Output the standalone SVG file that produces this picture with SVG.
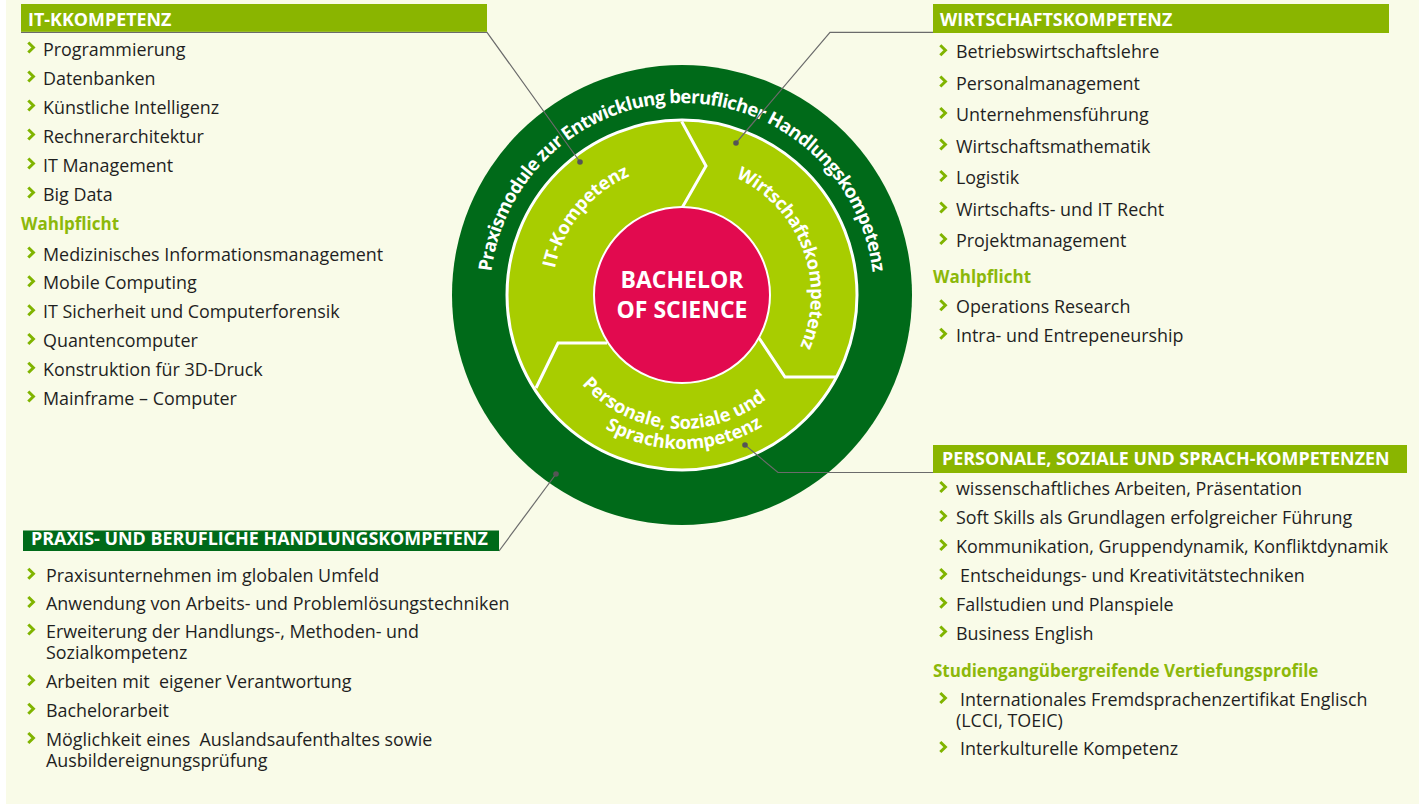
<svg xmlns="http://www.w3.org/2000/svg" xmlns:xlink="http://www.w3.org/1999/xlink" width="1419" height="806" viewBox="0 0 1419 806">
<style>
.t{font-family:"Open Sans","Noto Sans","Liberation Sans",sans-serif;font-size:17.9px;fill:#1f1f1f}
.h{font-family:"Open Sans","Noto Sans","Liberation Sans",sans-serif;font-size:17.9px;font-weight:700;fill:#ffffff}
.w{font-family:"Open Sans","Noto Sans","Liberation Sans",sans-serif;font-size:17px;font-weight:700;fill:#8cb80a}
.r{font-family:"Open Sans","Noto Sans","Liberation Sans",sans-serif;font-weight:700;fill:#ffffff}
.hb{fill:#8ab500}
.hd{fill:#006a19}
.c{fill:none;stroke:#6b6b6b;stroke-width:1.2}
.d{fill:#555555}
.dv{fill:none;stroke:#ffffff;stroke-width:3;stroke-linejoin:miter}
</style>
<defs>
<path id="chev" d="M-2.7 -5 L2.4 0 L-2.7 5" fill="none" stroke="#80b400" stroke-width="3"/>
<path id="pOuter" d="M 490 295 A 192 192 0 0 1 874 295"/>
<path id="pIT" d="M 560.6 341.6 A 130 130 0 0 1 702.3 166.6"/>
<path id="pWi" d="M 702.2 167.6 A 129 129 0 0 1 782.2 376.2"/>
<path id="pPe" d="M 561 352.5 A 134 134 0 0 0 792.3 371.1"/>
<path id="pSp" d="M 549.7 373.8 A 154 154 0 0 0 816.4 370.1"/>
</defs>
<rect x="0" y="0" width="1419" height="806" fill="#ffffff"/>
<rect x="6" y="0" width="1413" height="804" fill="#f9fbe8"/>

<g id="wheel">
<circle cx="682" cy="295" r="230" fill="#006a19"/>
<circle cx="682" cy="295" r="175" fill="#a8cd00" stroke="#ffffff" stroke-width="3"/>
<path class="dv" d="M 682.5 207 L 706 166 L 681.7 121.5"/>
<path class="dv" d="M 759 338 L 785 377 L 836 377"/>
<path class="dv" d="M 607 343 L 558 343 L 536 388"/>
<circle cx="682" cy="295" r="88" fill="#e20a4f" stroke="#ffffff" stroke-width="2"/>
<text class="r" font-size="23" x="682" y="288" text-anchor="middle">BACHELOR</text>
<text class="r" font-size="23" x="682" y="318" text-anchor="middle">OF SCIENCE</text>
<text class="r" font-size="18.5" letter-spacing="-0.65"><textPath xlink:href="#pOuter" startOffset="50%" text-anchor="middle">Praxismodule zur Entwicklung beruflicher Handlungskompetenz</textPath></text>
<text class="r" font-size="18.3" letter-spacing="-0.2"><textPath xlink:href="#pIT" startOffset="50%" text-anchor="middle">IT-Kompetenz</textPath></text>
<text class="r" font-size="18.3" letter-spacing="-0.4"><textPath xlink:href="#pWi" startOffset="50%" text-anchor="middle">Wirtschaftskompetenz</textPath></text>
<text class="r" font-size="18.3"><textPath xlink:href="#pPe" startOffset="50%" text-anchor="middle">Personale, Soziale und</textPath></text>
<text class="r" font-size="18.3"><textPath xlink:href="#pSp" startOffset="50%" text-anchor="middle">Sprachkompetenz</textPath></text>
</g>

<g id="connectors">
<polyline class="c" points="21,32.3 487,32.3 580,162"/>
<polyline class="c" points="736,143 830,32.3 933,32.3"/>
<polyline class="c" points="745,445 778,472.5 933,472.5"/>
<polyline class="c" points="556,474 499,551"/>
<circle class="d" cx="580" cy="162" r="2.8"/>
<circle class="d" cx="736" cy="143" r="2.8"/>
<circle class="d" cx="745" cy="445" r="2.8"/>
<circle class="d" cx="556" cy="474" r="2.8"/>
</g>

<g id="it-kompetenz">
<rect class="hb" x="21" y="4" width="466" height="27.8"/>
<text class="h" x="28" y="26">IT-KKOMPETENZ</text>
<use xlink:href="#chev" x="31" y="47.5"/><text class="t" x="43" y="55.5">Programmierung</text>
<use xlink:href="#chev" x="31" y="76.5"/><text class="t" x="43" y="84.5">Datenbanken</text>
<use xlink:href="#chev" x="31" y="105.5"/><text class="t" x="43" y="113.5">Künstliche Intelligenz</text>
<use xlink:href="#chev" x="31" y="134.5"/><text class="t" x="43" y="142.5">Rechnerarchitektur</text>
<use xlink:href="#chev" x="31" y="163.5"/><text class="t" x="43" y="171.5">IT Management</text>
<use xlink:href="#chev" x="31" y="192.5"/><text class="t" x="43" y="200.5">Big Data</text>
<text class="w" x="21" y="230">Wahlpflicht</text>
<use xlink:href="#chev" x="31" y="252.5"/><text class="t" x="43" y="260.5">Medizinisches Informationsmanagement</text>
<use xlink:href="#chev" x="31" y="281.3"/><text class="t" x="43" y="289.3">Mobile Computing</text>
<use xlink:href="#chev" x="31" y="310.2"/><text class="t" x="43" y="318.2">IT Sicherheit und Computerforensik</text>
<use xlink:href="#chev" x="31" y="339"/><text class="t" x="43" y="347">Quantencomputer</text>
<use xlink:href="#chev" x="31" y="367.8"/><text class="t" x="43" y="375.8">Konstruktion für 3D-Druck</text>
<use xlink:href="#chev" x="31" y="396.5"/><text class="t" x="43" y="404.5">Mainframe – Computer</text>
</g>

<g id="wirtschaftskompetenz">
<rect class="hb" x="933" y="4" width="456" height="29"/>
<text class="h" x="940" y="26.3">WIRTSCHAFTSKOMPETENZ</text>
<use xlink:href="#chev" x="943" y="50.3"/><text class="t" x="956" y="58.3">Betriebswirtschaftslehre</text>
<use xlink:href="#chev" x="943" y="81.5"/><text class="t" x="956" y="89.5">Personalmanagement</text>
<use xlink:href="#chev" x="943" y="113"/><text class="t" x="956" y="121">Unternehmensführung</text>
<use xlink:href="#chev" x="943" y="144.5"/><text class="t" x="956" y="152.5">Wirtschaftsmathematik</text>
<use xlink:href="#chev" x="943" y="176"/><text class="t" x="956" y="184">Logistik</text>
<use xlink:href="#chev" x="943" y="207.5"/><text class="t" x="956" y="215.5">Wirtschafts- und IT Recht</text>
<use xlink:href="#chev" x="943" y="239"/><text class="t" x="956" y="247">Projektmanagement</text>
<text class="w" x="933" y="283.3">Wahlpflicht</text>
<use xlink:href="#chev" x="943" y="305.3"/><text class="t" x="956" y="313.3">Operations Research</text>
<use xlink:href="#chev" x="943" y="333.7"/><text class="t" x="956" y="341.7">Intra- und Entrepeneurship</text>
</g>

<g id="personale-kompetenzen">
<rect class="hb" x="933" y="445" width="474" height="28"/>
<text class="h" x="942" y="465">PERSONALE, SOZIALE UND SPRACH-KOMPETENZEN</text>
<use xlink:href="#chev" x="943" y="487"/><text class="t" x="956" y="495">wissenschaftliches Arbeiten, Präsentation</text>
<use xlink:href="#chev" x="943" y="516"/><text class="t" x="956" y="524">Soft Skills als Grundlagen erfolgreicher Führung</text>
<use xlink:href="#chev" x="943" y="545"/><text class="t" x="956" y="553">Kommunikation, Gruppendynamik, Konfliktdynamik</text>
<use xlink:href="#chev" x="943" y="574"/><text class="t" x="960" y="582">Entscheidungs- und Kreativitätstechniken</text>
<use xlink:href="#chev" x="943" y="602.7"/><text class="t" x="956" y="610.7">Fallstudien und Planspiele</text>
<use xlink:href="#chev" x="943" y="631.5"/><text class="t" x="956" y="639.5">Business English</text>
<text class="w" x="933" y="676.7">Studiengangübergreifende Vertiefungsprofile</text>
<use xlink:href="#chev" x="943" y="698"/><text class="t" x="960" y="706">Internationales Fremdsprachenzertifikat Englisch</text>
<text class="t" x="956" y="726.7">(LCCI, TOEIC)</text>
<use xlink:href="#chev" x="943" y="747"/><text class="t" x="960" y="755">Interkulturelle Kompetenz</text>
</g>

<g id="praxis-kompetenz">
<rect class="hd" x="23" y="530.5" width="476" height="20.5"/>
<text class="h" x="31" y="545">PRAXIS- UND BERUFLICHE HANDLUNGSKOMPETENZ</text>
<use xlink:href="#chev" x="31" y="573.7"/><text class="t" x="46" y="581.7">Praxisunternehmen im globalen Umfeld</text>
<use xlink:href="#chev" x="31" y="602"/><text class="t" x="46" y="610">Anwendung von Arbeits- und Problemlösungstechniken</text>
<use xlink:href="#chev" x="31" y="629.5"/><text class="t" x="46" y="637.5">Erweiterung der Handlungs-, Methoden- und</text>
<text class="t" x="46" y="658.5">Sozialkompetenz</text>
<use xlink:href="#chev" x="31" y="680.3"/><text class="t" x="46" y="688.3" xml:space="preserve">Arbeiten mit  eigener Verantwortung</text>
<use xlink:href="#chev" x="31" y="708.7"/><text class="t" x="46" y="716.7">Bachelorarbeit</text>
<use xlink:href="#chev" x="31" y="738"/><text class="t" x="46" y="746" xml:space="preserve">Möglichkeit eines  Auslandsaufenthaltes sowie</text>
<text class="t" x="46" y="766.7">Ausbildereignungsprüfung</text>
</g>
</svg>
